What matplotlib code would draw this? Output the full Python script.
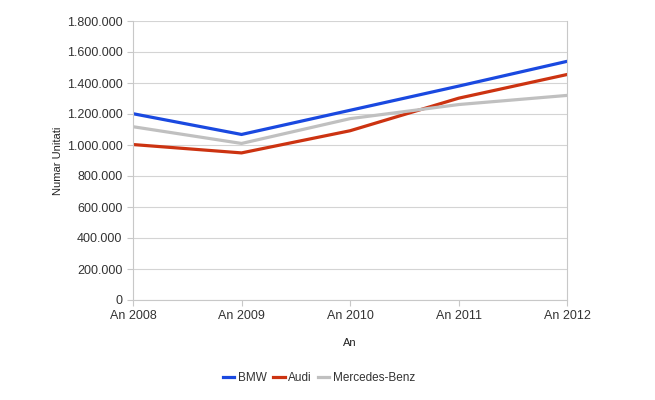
import matplotlib
matplotlib.use('Agg')
import matplotlib.pyplot as plt
from matplotlib.ticker import FuncFormatter

plt.rcParams['font.family'] = ['Liberation Sans', 'DejaVu Sans']

years = ['An 2008', 'An 2009', 'An 2010', 'An 2011', 'An 2012']
bmw = [1202000, 1068000, 1224000, 1380000, 1540000]
audi = [1003000, 949000, 1092000, 1302000, 1455000]
mercedes = [1118000, 1010000, 1170000, 1261000, 1320000]

fig = plt.figure(figsize=(6.55, 4.0), dpi=100)
ax = fig.add_axes([0.203, 0.25, 0.663, 0.6975])

x = range(len(years))
ax.plot(x, bmw, color='#1a49e0', lw=2.3, label='BMW', solid_joinstyle='round')
ax.plot(x, audi, color='#cc3311', lw=2.3, label='Audi', solid_joinstyle='round')
ax.plot(x, mercedes, color='#c0c0c0', lw=2.3, label='Mercedes-Benz', solid_joinstyle='round')

ax.set_xlim(0, len(years) - 1)
ax.set_ylim(0, 1800000)
ax.set_yticks(range(0, 1800001, 200000))
ax.yaxis.set_major_formatter(FuncFormatter(lambda v, p: f'{int(v):,}'.replace(',', '.')))
ax.set_xticks(list(x))
ax.set_xticklabels(years)

ax.grid(axis='y', color='#d4d4d4', lw=0.8)
ax.set_axisbelow(True)
for s in ['left', 'right', 'bottom']:
    ax.spines[s].set_color('#c8c8c8')
    ax.spines[s].set_linewidth(0.8)
ax.spines['top'].set_visible(False)
ax.tick_params(colors='#c8c8c8', labelcolor='#333333', labelsize=9, length=4, width=0.8)

ax.set_ylabel('Numar Unitati', fontsize=8, color='#222222', labelpad=3)
ax.set_xlabel('An', fontsize=8, color='#222222', labelpad=11)

fig.legend(loc='center', bbox_to_anchor=(0.487, 0.055), ncol=3, frameon=False,
           fontsize=8.5, handlelength=1.0, handletextpad=0.3, columnspacing=0.5,
           labelcolor='#333333')

fig.savefig('out.png', dpi=100)
